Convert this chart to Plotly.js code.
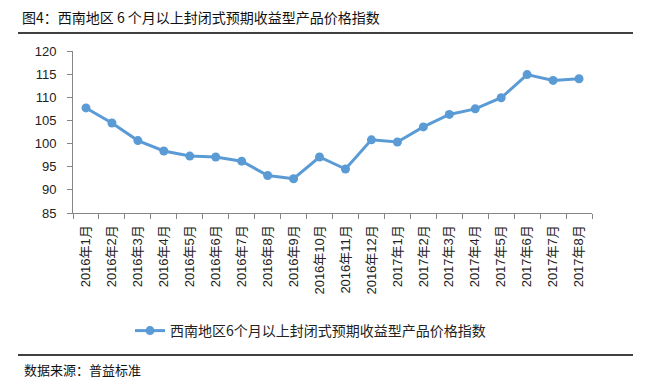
<!DOCTYPE html>
<html>
<head>
<meta charset="utf-8">
<script src="https://cdn.plot.ly/plotly-3.0.1.min.js"></script>
<style>
html,body{margin:0;padding:0;background:#fff;}
#chart{width:649px;height:386px;}
</style>
</head>
<body>
<div id="chart"></div>
<script>
var categories = ["2016年1月","2016年2月","2016年3月","2016年4月","2016年5月","2016年6月","2016年7月","2016年8月","2016年9月","2016年10月","2016年11月","2016年12月","2017年1月","2017年2月","2017年3月","2017年4月","2017年5月","2017年6月","2017年7月","2017年8月"];
var indexValues = [107.7,104.45,100.65,98.4,97.3,97.1,96.2,93.1,92.4,97.1,94.5,100.8,100.35,103.6,106.3,107.5,109.9,114.9,113.65,114.0];
var seriesName = "西南地区6个月以上封闭式预期收益型产品价格指数";
var chartTitle = "图4：西南地区 6 个月以上封闭式预期收益型产品价格指数";
var sourceText = "数据来源：普益标准";
var yTicks = [85,90,95,100,105,110,115,120];

var W = 649, H = 386;
var M = {l:73, r:57, t:51, b:173};
var pw = W - M.l - M.r, ph = H - M.t - M.b;
function px(x){ return (x - M.l) / pw; }
function py(y){ return (H - M.b - y) / ph; }

var FONT = "Liberation Sans, Arial, Noto Sans CJK SC, sans-serif";

var trace = {
  x: categories,
  y: indexValues,
  name: seriesName,
  type: "scatter",
  mode: "lines+markers",
  line: {color: "#5B9BD5", width: 3},
  marker: {color: "#5B9BD5", size: 9},
  cliponaxis: false,
  hoverinfo: "skip"
};

var layout = {
  width: W, height: H,
  margin: M,
  paper_bgcolor: "#fff",
  plot_bgcolor: "#fff",
  font: {family: FONT, color: "#222", size: 13},
  title: {
    text: chartTitle,
    xref: "container", yref: "container",
    x: 22 / W, xanchor: "left",
    y: 1 - 18 / H, yanchor: "middle",
    font: {family: "Noto Sans CJK SC, sans-serif", size: 14, color: "#111"}
  },
  showlegend: true,
  legend: {
    orientation: "h",
    x: px(130), xanchor: "left",
    y: py(331), yanchor: "middle",
    font: {family: "Noto Sans CJK SC, sans-serif", size: 14, color: "#222"},
    bgcolor: "rgba(0,0,0,0)"
  },
  xaxis: {
    type: "category",
    automargin: false,
    range: [-0.5, categories.length - 0.5],
    tickson: "boundaries",
    showline: true, linecolor: "#868686", linewidth: 1,
    ticks: "outside", ticklen: 5, tickcolor: "#868686",
    showgrid: false, zeroline: false,
    tickangle: -90,
    tickfont: {family: FONT, size: 13, color: "#222"},
    ticklabelstandoff: 6,
    fixedrange: true
  },
  yaxis: {
    automargin: false,
    range: [85, 120],
    tickvals: yTicks,
    ticktext: yTicks.map(String),
    showline: true, linecolor: "#868686", linewidth: 1,
    ticks: "outside", ticklen: 5, tickcolor: "#868686",
    showgrid: false, zeroline: false,
    tickfont: {family: FONT, size: 13, color: "#222"},
    ticklabelstandoff: 8,
    fixedrange: true
  },
  shapes: [
    {type: "line", xref: "paper", yref: "paper", x0: px(18), x1: px(633), y0: py(33), y1: py(33), line: {color: "#000", width: 1.5}},
    {type: "line", xref: "paper", yref: "paper", x0: px(18), x1: px(633), y0: py(355), y1: py(355), line: {color: "#000", width: 1.5}}
  ],
  annotations: [
    {text: sourceText, xref: "paper", yref: "paper", x: px(22), y: py(369), xanchor: "left", yanchor: "middle", showarrow: false,
     font: {family: "Noto Sans CJK SC, sans-serif", size: 13, color: "#111"}}
  ]
};

Plotly.newPlot("chart", [trace], layout, {displayModeBar: false, staticPlot: true});
</script>
</body>
</html>
